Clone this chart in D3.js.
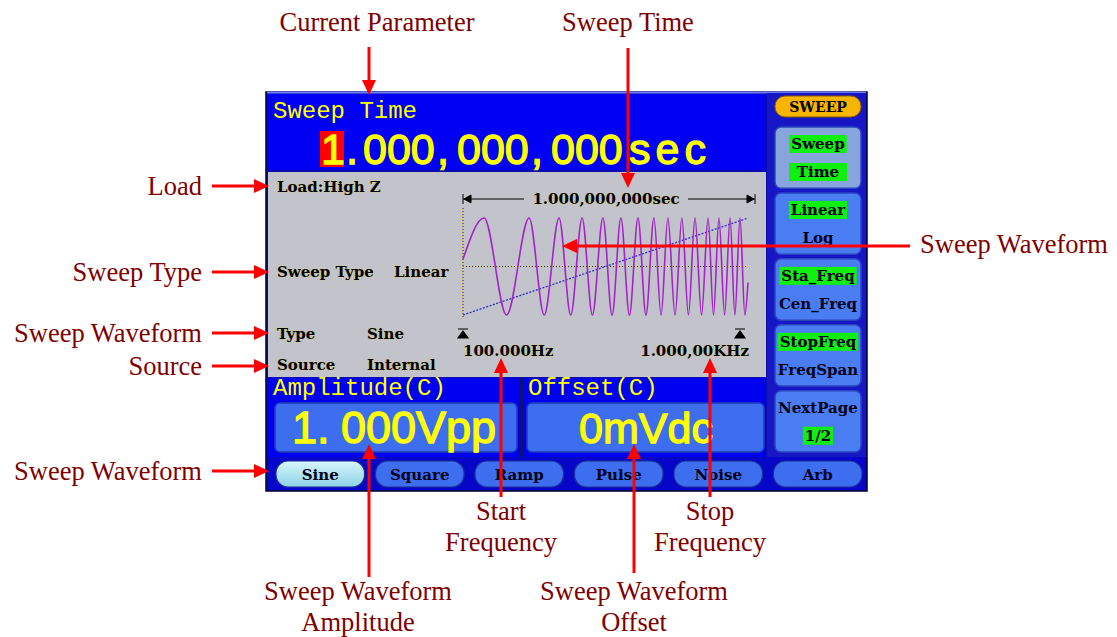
<!DOCTYPE html>
<html>
<head>
<meta charset="utf-8">
<script src="https://cdn.jsdelivr.net/npm/d3@7"></script>
<style>
  body { margin: 0; background: #fff; }
  svg { display: block; }
</style>
</head>
<body>
<svg id="chart" width="1117" height="637"></svg>
<script>
// values (sweep time as a fraction of the sweep)
const sweepPeaks   = [0.074, 0.232, 0.337, 0.418, 0.491, 0.554, 0.614, 0.670, 0.719, 0.768, 0.814, 0.860, 0.898, 0.937, 0.972];
const sweepTroughs = [0.153, 0.285, 0.378, 0.454, 0.523, 0.584, 0.642, 0.695, 0.744, 0.791, 0.837, 0.879, 0.918, 0.954, 0.989];
const waveStart = 0.15;
const waveEnd = -0.33;
const rampLevels = [-1, 1];

const softKeys = [["Sweep", "Time"], ["Linear", "Log"], ["Sta_Freq", "Cen_Freq"], ["StopFreq", "FreqSpan"], ["NextPage", "1/2"]];
const softKeyLit = [[true, true], [true, false], [true, false], [true, false], [false, true]];
const waveKeys = ["Sine", "Square", "Ramp", "Pulse", "Noise", "Arb"];
const infoLabels = ["Load:High Z", "Sweep Type", "Type", "Source"];
const infoValues = ["", "Linear", "Sine", "Internal"];

const topNotes = ["Current Parameter", "Sweep Time"];
const leftNotes = ["Load", "Sweep Type", "Sweep Waveform", "Source", "Sweep Waveform"];
const rightNotes = ["Sweep Waveform"];
const bottomNotes = [["Start", "Frequency"], ["Stop", "Frequency"], ["Sweep Waveform", "Amplitude"], ["Sweep Waveform", "Offset"]];

const svg = d3.select("#chart");
const noteColor = "#800000";
const arrowRed = "#ff0000";
const yellow = "#ffff00";
const lcdFont = "'DejaVu Serif', serif";
const monoFont = "'Liberation Mono', monospace";
const sansFont = "'Liberation Sans', Arial, sans-serif";

// ---- screen frame
const scr = svg.append("g");
scr.append("rect").attr("x", 266).attr("y", 92).attr("width", 601).attr("height", 399)
  .attr("fill", "#0c0ca8").attr("stroke", "#000030").attr("stroke-width", 1.5);
scr.append("line").attr("x1", 267).attr("x2", 866).attr("y1", 92.5).attr("y2", 92.5)
  .attr("stroke", "#6a7cff").attr("stroke-width", 2);

// top parameter area
scr.append("rect").attr("x", 268).attr("y", 94).attr("width", 498).attr("height", 76).attr("fill", "#0000f2");
scr.append("text").attr("x", 273).attr("y", 118).attr("font-family", monoFont).attr("font-size", 24)
  .attr("fill", yellow).text("Sweep Time");
scr.append("rect").attr("x", 320).attr("y", 131).attr("width", 24).attr("height", 36).attr("fill", "#ff0000");
const bigNum = [["1", 321], [".", 346], ["000", 363], [",", 437], ["000", 457], [",", 531], ["000", 551], ["sec", 629]];
scr.selectAll("text.big").data(bigNum).enter().append("text")
  .attr("class", "big")
  .attr("x", d => d[1]).attr("y", 164)
  .attr("font-family", sansFont).attr("font-size", 43)
  .attr("letter-spacing", d => d[0] === "sec" ? 5 : 0)
  .attr("fill", yellow).attr("stroke", yellow).attr("stroke-width", 1.3)
  .text(d => d[0]);

// gray info / waveform area
scr.append("rect").attr("x", 268).attr("y", 172).attr("width", 498).attr("height", 205).attr("fill", "#c3c3cb");

const infoX = [[277, 0], [277, 394], [277, 367], [277, 367]];
const infoY = [192, 277, 339, 370];
const infoG = scr.append("g").attr("font-family", lcdFont).attr("font-size", 15).attr("font-weight", "bold")
  .attr("fill", "#000010").attr("stroke", "#d8cc50").attr("stroke-width", 0.6).attr("paint-order", "stroke");
infoLabels.forEach((lab, i) => {
  infoG.append("text").attr("x", infoX[i][0]).attr("y", infoY[i]).text(lab);
  if (infoValues[i]) infoG.append("text").attr("x", infoX[i][1]).attr("y", infoY[i]).text(infoValues[i]);
});

// waveform
const x = d3.scaleLinear().domain([0, 1]).range([463, 748]);
const y = d3.scaleLinear().domain([-1, 1]).range([315, 218]);

const pts = [{ t: 0, v: waveStart }];
sweepPeaks.forEach((p, i) => {
  pts.push({ t: p, v: 1 });
  pts.push({ t: sweepTroughs[i], v: -1 });
});
pts.push({ t: 1, v: waveEnd });

// dotted axes
scr.append("line").attr("x1", x(0)).attr("x2", x(1)).attr("y1", y(0)).attr("y2", y(0))
  .attr("stroke", "#d8d040").attr("stroke-width", 1);
scr.append("line").attr("x1", x(0)).attr("x2", x(1)).attr("y1", y(0)).attr("y2", y(0))
  .attr("stroke", "#1a1aa0").attr("stroke-width", 1).attr("stroke-dasharray", "1,2");
scr.append("line").attr("x1", x(0)).attr("x2", x(0)).attr("y1", 208).attr("y2", 318)
  .attr("stroke", "#d8d040").attr("stroke-width", 1);
scr.append("line").attr("x1", x(0)).attr("x2", x(0)).attr("y1", 208).attr("y2", 318)
  .attr("stroke", "#1a1aa0").attr("stroke-width", 1).attr("stroke-dasharray", "1,2");

// sweep ramp
scr.append("line")
  .attr("x1", x(0)).attr("y1", y(rampLevels[0]))
  .attr("x2", x(1)).attr("y2", y(rampLevels[1]))
  .attr("stroke", "#2a2ad8").attr("stroke-width", 1.3).attr("stroke-dasharray", "2,1.5");

const wave = d3.line().x(d => x(d.t)).y(d => y(d.v)).curve(d3.curveMonotoneX);
scr.append("path").attr("d", wave(pts)).attr("fill", "none")
  .attr("stroke", "#a424c8").attr("stroke-width", 1.6);

// sweep time span marker
const spanY = 199;
scr.append("line").attr("x1", 463).attr("x2", 755).attr("y1", spanY).attr("y2", spanY)
  .attr("stroke", "#000").attr("stroke-width", 1.2);
scr.append("path").attr("d", `M463,${spanY - 5}V${spanY + 5}M464,${spanY}l7,-4v8z`).attr("fill", "#000").attr("stroke", "#000");
scr.append("path").attr("d", `M755,${spanY - 5}V${spanY + 5}M754,${spanY}l-7,-4v8z`).attr("fill", "#000").attr("stroke", "#000");
scr.append("rect").attr("x", 524).attr("y", 190).attr("width", 164).attr("height", 16).attr("fill", "#c3c3cb");
const spanG = scr.append("g").attr("font-family", lcdFont).attr("font-size", 15).attr("font-weight", "bold")
  .attr("fill", "#000010").attr("stroke", "#d8cc50").attr("stroke-width", 0.6).attr("paint-order", "stroke");
spanG.append("text").attr("x", 606).attr("y", 204).attr("text-anchor", "middle").text("1.000,000,000sec");

// start / stop markers
[x(0), 740].forEach(mx => {
  scr.append("path").attr("d", `M${mx - 5},329H${mx + 5}M${mx},331l5,7h-10z`)
    .attr("fill", "#000").attr("stroke", "#000").attr("stroke-width", 1.2);
});
spanG.append("text").attr("x", 463).attr("y", 356).text("100.000Hz");
spanG.append("text").attr("x", 749).attr("y", 356).attr("text-anchor", "end").text("1.000,00KHz");

// amplitude / offset area
scr.append("rect").attr("x", 268).attr("y", 378).attr("width", 498).attr("height", 79).attr("fill", "#0000f0");
scr.append("rect").attr("x", 520).attr("y", 378).attr("width", 3).attr("height", 79).attr("fill", "#101070");
scr.append("text").attr("x", 273).attr("y", 395).attr("font-family", monoFont).attr("font-size", 24)
  .attr("fill", yellow).text("Amplitude(C)");
scr.append("text").attr("x", 528).attr("y", 395).attr("font-family", monoFont).attr("font-size", 24)
  .attr("fill", yellow).text("Offset(C)");
[[275, 242], [527, 237]].forEach(b => {
  scr.append("rect").attr("x", b[0]).attr("y", 403).attr("width", b[1]).attr("height", 49).attr("rx", 5)
    .attr("fill", "#3d6ef0").attr("stroke", "#1f3fb8").attr("stroke-width", 1.5);
});
const ampG = scr.append("g").attr("font-family", sansFont).attr("fill", yellow)
  .attr("stroke", yellow).attr("stroke-width", 1.3);
ampG.append("text").attr("x", 292).attr("y", 443).attr("font-size", 45).text("1.");
ampG.append("text").attr("x", 341).attr("y", 443).attr("font-size", 45).text("000Vpp");
ampG.append("text").attr("x", 646).attr("y", 443).attr("text-anchor", "middle").attr("font-size", 43).text("0mVdc");

// right soft keys
scr.append("rect").attr("x", 767).attr("y", 93).attr("width", 99).attr("height", 364).attr("fill", "#1616c4");
scr.append("rect").attr("x", 775).attr("y", 96).attr("width", 86).attr("height", 21).attr("rx", 10)
  .attr("fill", "#f7b400").attr("stroke", "#8a5a00").attr("stroke-width", 1);
scr.append("text").attr("x", 818).attr("y", 112).attr("text-anchor", "middle").attr("font-family", lcdFont)
  .attr("font-size", 14).attr("font-weight", "bold").attr("fill", "#000").text("SWEEP");

const keyY = d3.scaleBand().domain(d3.range(softKeys.length)).range([125, 454]).paddingInner(0.07).paddingOuter(0.03);
const keys = scr.selectAll("g.key").data(softKeys).enter().append("g").attr("class", "key")
  .attr("transform", (d, i) => `translate(775,${keyY(i)})`);
keys.append("rect").attr("width", 86).attr("height", keyY.bandwidth()).attr("rx", 6)
  .attr("fill", (d, i) => i === 0 ? "#88a4dc" : "#4a7cf2")
  .attr("stroke", "#2a44c0").attr("stroke-width", 1.5);
keys.each(function (d, i) {
  const g = d3.select(this);
  d.forEach((lab, j) => {
    const cy = j === 0 ? 17 : 45;
    const t = g.append("text").attr("x", 43).attr("y", cy + 5).attr("text-anchor", "middle")
      .attr("font-family", lcdFont).attr("font-size", 15).attr("font-weight", "bold")
      .attr("fill", "#000018").text(lab);
    if (softKeyLit[i][j]) {
      const w = Math.min(82, Math.max(t.node().getComputedTextLength() + 4, j === 1 && i === 0 ? 58 : 0));
      g.insert("rect", "text").attr("x", 43 - w / 2).attr("y", cy - 9).attr("width", w).attr("height", 18)
        .attr("fill", "#10f010");
    }
  });
});

// bottom waveform keys
scr.append("rect").attr("x", 267).attr("y", 457).attr("width", 599).attr("height", 33).attr("fill", "#0606c8");
const defs = svg.append("defs");
const grad = defs.append("linearGradient").attr("id", "sel").attr("x1", 0).attr("y1", 0).attr("x2", 0).attr("y2", 1);
grad.append("stop").attr("offset", 0).attr("stop-color", "#d8f6fb");
grad.append("stop").attr("offset", 1).attr("stop-color", "#8cd2e6");
const keyX = d3.scaleBand().domain(waveKeys).range([271, 867]).paddingInner(0.11).paddingOuter(0.05);
const wk = scr.selectAll("g.wk").data(waveKeys).enter().append("g").attr("class", "wk")
  .attr("transform", d => `translate(${keyX(d)},461)`);
wk.append("rect").attr("width", keyX.bandwidth()).attr("height", 26).attr("rx", 12)
  .attr("fill", (d, i) => i === 0 ? "url(#sel)" : "#3d6ef0")
  .attr("stroke", "#1a2f9a").attr("stroke-width", 1.2);
wk.append("text").attr("x", keyX.bandwidth() / 2).attr("y", 19).attr("text-anchor", "middle")
  .attr("font-family", lcdFont).attr("font-size", 15).attr("font-weight", "bold").attr("fill", "#000018")
  .text(d => d);

// ---- annotations
function arrow(x1, y1, x2, y2) {
  const a = Math.atan2(y2 - y1, x2 - x1), L = 15, W = 7;
  const bx = x2 - L * Math.cos(a), by = y2 - L * Math.sin(a);
  svg.append("line").attr("x1", x1).attr("y1", y1).attr("x2", bx).attr("y2", by)
    .attr("stroke", arrowRed).attr("stroke-width", 3);
  svg.append("path")
    .attr("d", `M${x2},${y2}L${bx + W * Math.sin(a)},${by - W * Math.cos(a)}L${bx - W * Math.sin(a)},${by + W * Math.cos(a)}Z`)
    .attr("fill", arrowRed);
}
const notes = svg.append("g").attr("font-family", "'Liberation Serif', 'Times New Roman', serif")
  .attr("font-size", 26.5).attr("fill", noteColor);

// top
const topX = [377, 628];
topNotes.forEach((t, i) => notes.append("text").attr("x", topX[i]).attr("y", 31).attr("text-anchor", "middle").text(t));
arrow(369, 47, 369, 95);
arrow(628, 48, 628, 188);

// left
const leftY = [186, 272, 333, 366, 471];
leftNotes.forEach((t, i) => {
  notes.append("text").attr("x", 202).attr("y", leftY[i] + 9).attr("text-anchor", "end").text(t);
  arrow(212, leftY[i], 269, leftY[i]);
});

// right
notes.append("text").attr("x", 920).attr("y", 253).text(rightNotes[0]);
arrow(910, 246, 562, 246);

// bottom
const botX = [501, 710, 358, 634];
const botY = [520, 520, 600, 600];
const botLine = [[497, 358], [497, 358], [577, 444], [573, 444]];
const botLineX = [501, 710, 369, 634];
bottomNotes.forEach((t, i) => {
  notes.append("text").attr("x", botX[i]).attr("y", botY[i]).attr("text-anchor", "middle").text(t[0]);
  notes.append("text").attr("x", botX[i]).attr("y", botY[i] + 31).attr("text-anchor", "middle").text(t[1]);
  arrow(botLineX[i], botLine[i][0], botLineX[i], botLine[i][1]);
});
</script>
</body>
</html>
